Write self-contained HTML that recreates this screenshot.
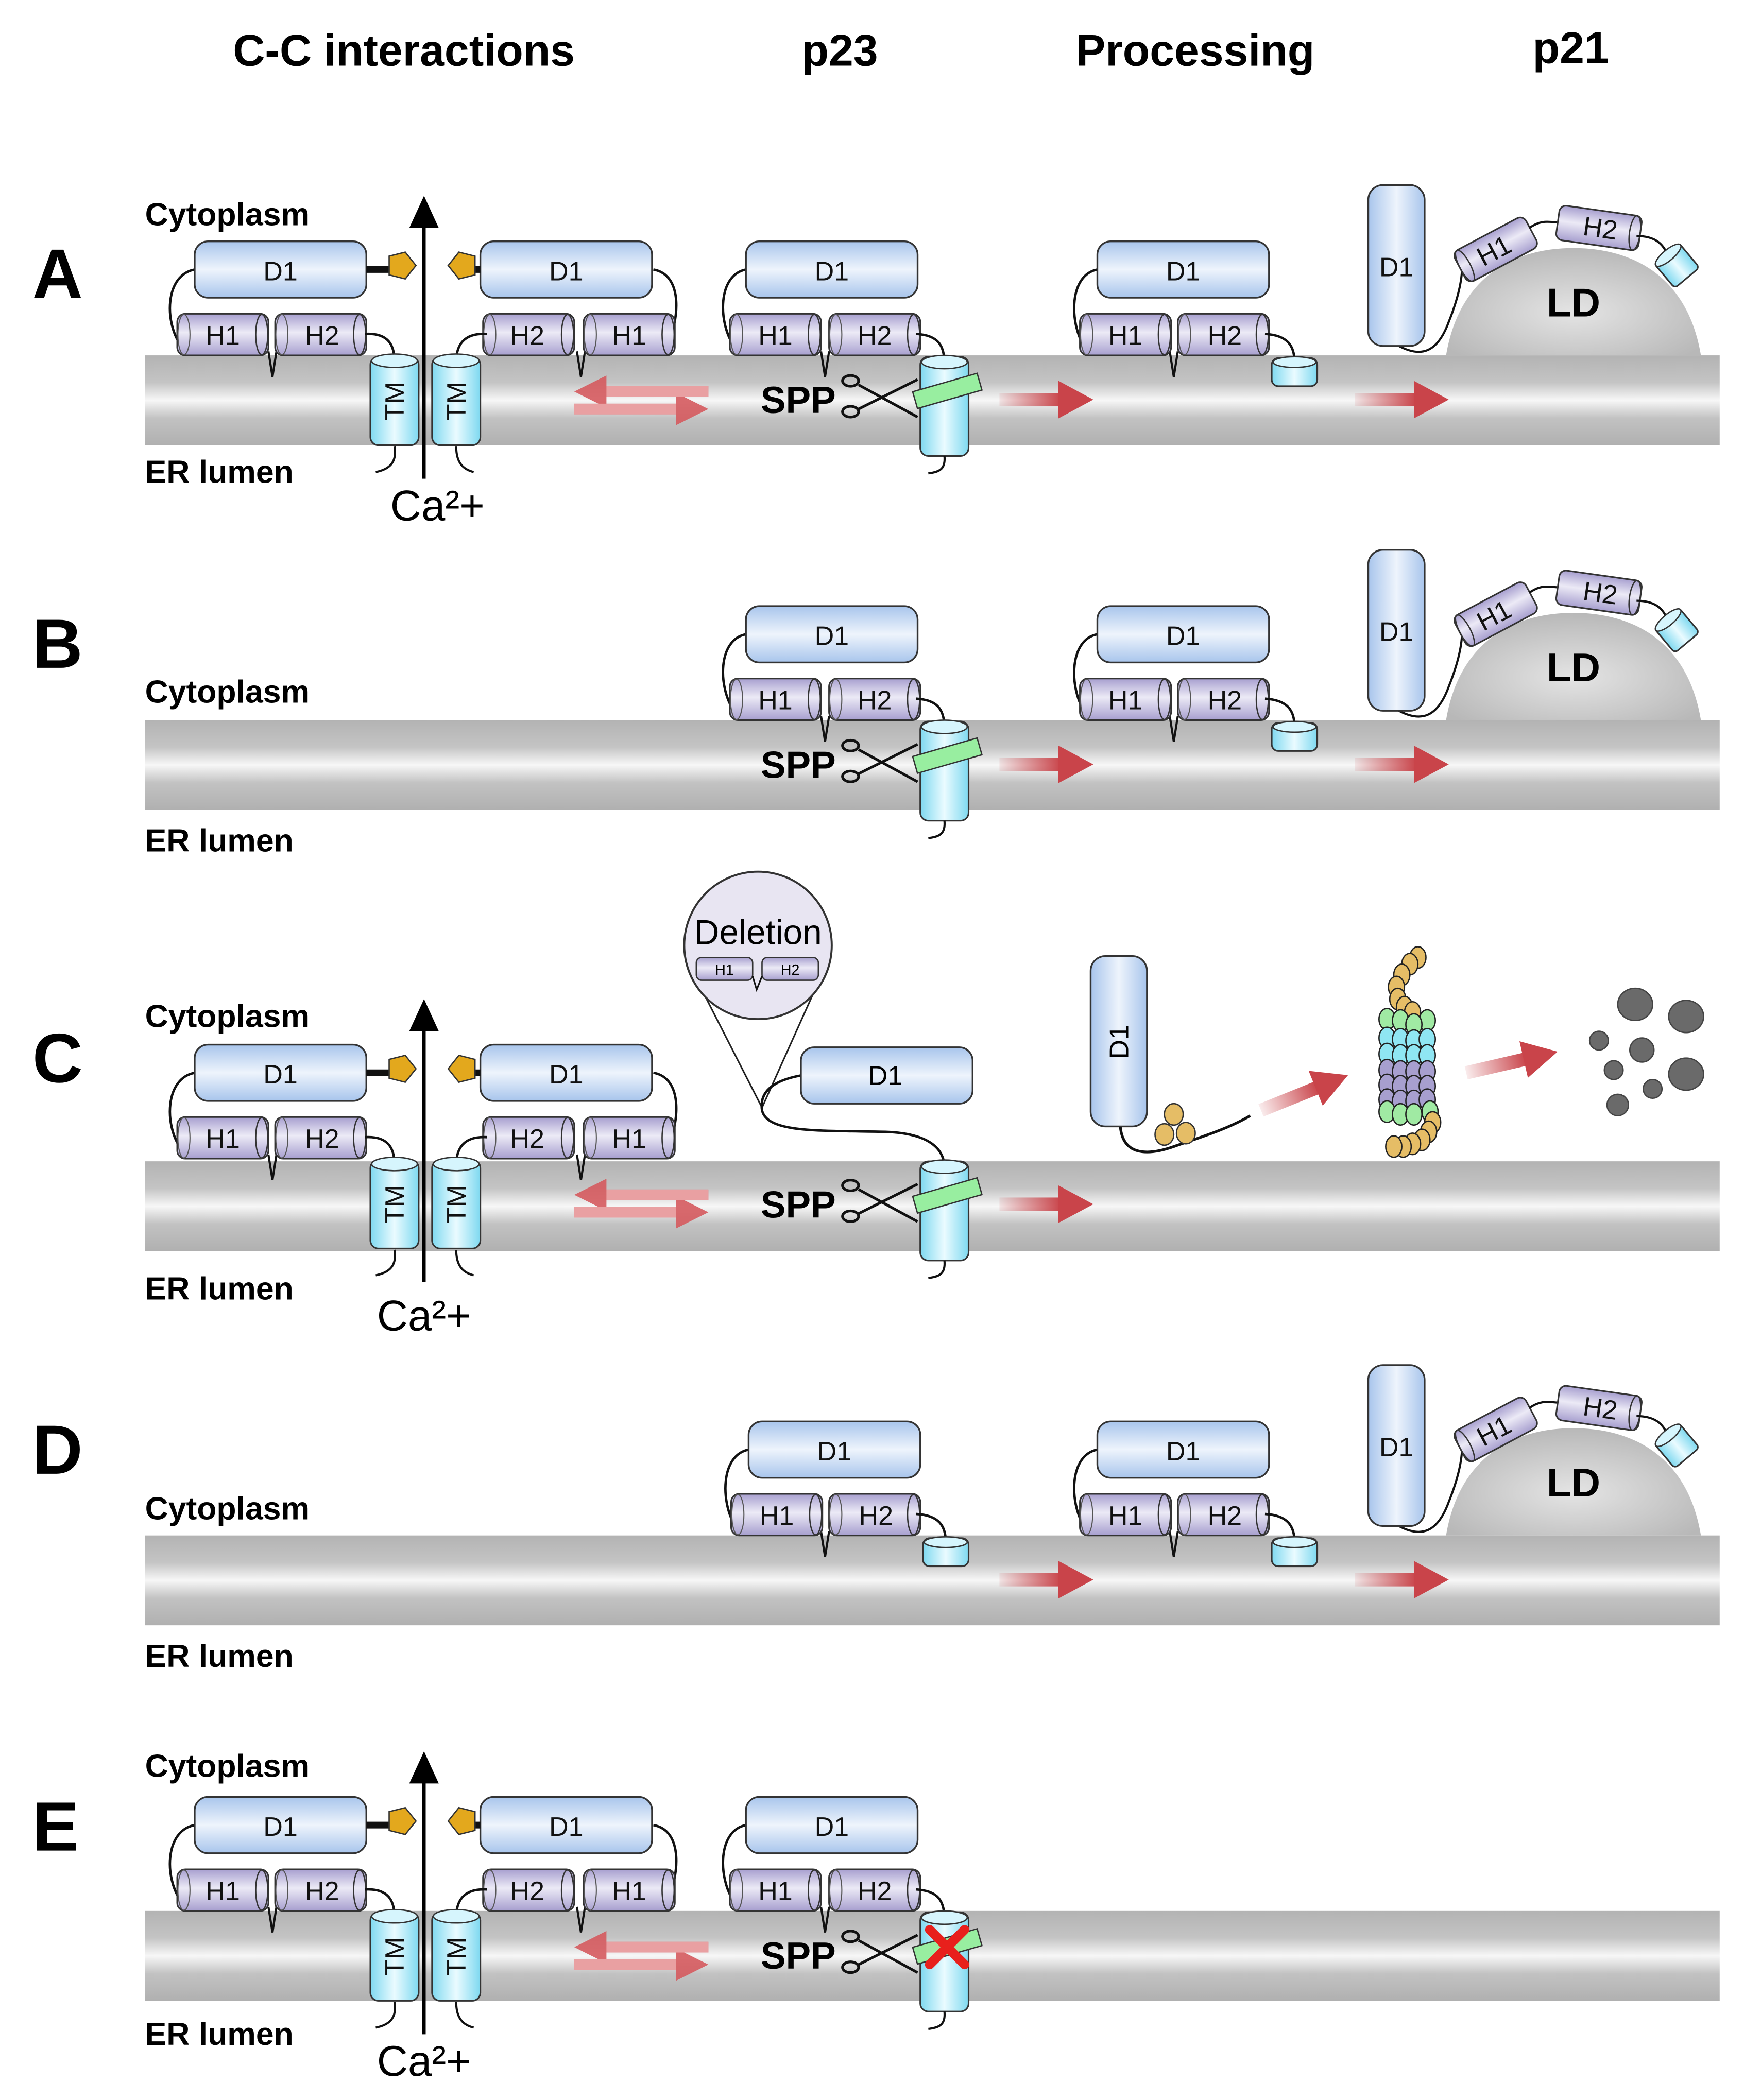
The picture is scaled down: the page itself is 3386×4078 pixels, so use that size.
<!DOCTYPE html>
<html><head><meta charset="utf-8"><style>html,body{margin:0;padding:0;background:#fff}svg{display:block}</style></head>
<body>
<svg xmlns="http://www.w3.org/2000/svg" xmlns:xlink="http://www.w3.org/1999/xlink" width="3386" height="4078" viewBox="0 0 1300 1566" font-family="Liberation Sans, Arial, sans-serif">
<defs>
<linearGradient id="mem" x1="0" y1="0" x2="0" y2="1"><stop offset="0" stop-color="#b3b3b3"/><stop offset="0.3" stop-color="#c4c4c4"/><stop offset="0.5" stop-color="#f7f7f7"/><stop offset="0.7" stop-color="#c2c2c2"/><stop offset="1" stop-color="#b0b0b0"/></linearGradient>
<linearGradient id="blue" x1="0" y1="0" x2="0" y2="1"><stop offset="0" stop-color="#a8c5ec"/><stop offset="0.5" stop-color="#eef4fc"/><stop offset="1" stop-color="#a8c5ec"/></linearGradient>
<linearGradient id="blueV" x1="0" y1="0" x2="1" y2="0"><stop offset="0" stop-color="#a8c5ec"/><stop offset="0.5" stop-color="#eef4fc"/><stop offset="1" stop-color="#a8c5ec"/></linearGradient>
<linearGradient id="purp" x1="0" y1="0" x2="0" y2="1"><stop offset="0" stop-color="#a79fcf"/><stop offset="0.45" stop-color="#eceaf6"/><stop offset="1" stop-color="#a79fcf"/></linearGradient>
<linearGradient id="cyan" x1="0" y1="0" x2="1" y2="0"><stop offset="0" stop-color="#7fd9f0"/><stop offset="0.5" stop-color="#eafbff"/><stop offset="1" stop-color="#7fd9f0"/></linearGradient>
<linearGradient id="red" x1="0" y1="0" x2="1" y2="0"><stop offset="0" stop-color="#c9444a" stop-opacity="0.1"/><stop offset="1" stop-color="#c9444a"/></linearGradient>
<radialGradient id="ld" cx="0.5" cy="0.6" r="0.6"><stop offset="0" stop-color="#e4e4e4"/><stop offset="1" stop-color="#b8b8b8"/></radialGradient>
<g id="hcyl"><rect x="0" y="0" width="68" height="31" rx="6" fill="url(#purp)" stroke="#333" stroke-width="1.2"/><ellipse cx="63" cy="15.5" rx="4.5" ry="15" fill="none" stroke="#333" stroke-width="1"/><ellipse cx="5" cy="15.5" rx="4.5" ry="15" fill="none" stroke="#555" stroke-width="0.8"/></g>
<g id="d1"><rect x="0" y="0" width="128" height="42" rx="10" fill="url(#blue)" stroke="#333" stroke-width="1.3"/></g>
<g id="tm"><rect x="0" y="0" width="36" height="66" rx="6" fill="url(#cyan)" stroke="#333" stroke-width="1.2"/><ellipse cx="18" cy="3" rx="17" ry="5" fill="#d6f5fd" stroke="#333" stroke-width="1"/></g>
<g id="tml"><rect x="0" y="0" width="36" height="74" rx="6" fill="url(#cyan)" stroke="#333" stroke-width="1.2"/><ellipse cx="18" cy="4" rx="17" ry="5" fill="#d6f5fd" stroke="#333" stroke-width="1"/></g>
<g id="scyl"><rect x="0" y="0" width="34" height="21" rx="5" fill="url(#cyan)" stroke="#333" stroke-width="1.2"/><ellipse cx="17" cy="3" rx="16" ry="4" fill="#d6f5fd" stroke="#333" stroke-width="1"/></g>
<g id="rarrow"><rect x="0" y="-5" width="46" height="10" fill="url(#red)"/><polygon points="44,-14 70,0 44,14" fill="#c9444a"/></g>
<g id="eq"><polygon points="428,292 452,280 452,288 528,288 528,296 452,296 452,304" fill="#d55a5e" opacity="0.9"/><polygon points="528,305 504,317 504,309 428,309 428,301 504,301 504,293" fill="#d55a5e" opacity="0.9"/><rect x="452" y="288" width="76" height="8" fill="#e9a0a2"/><rect x="428" y="301" width="76" height="8" fill="#e9a0a2"/></g>
<g id="scis" fill="none" stroke="#111" stroke-width="2"><line x1="640" y1="287" x2="684" y2="311"/><line x1="640" y1="305" x2="684" y2="283"/><ellipse cx="634" cy="284" rx="6" ry="4"/><ellipse cx="634" cy="307" rx="6" ry="4"/></g>
<g id="leftShapes">
<path d="M145,201 C123,205 122,240 135,258" fill="none" stroke="#111" stroke-width="1.8"/>
<path d="M487,201 C510,205 506,240 497,258" fill="none" stroke="#111" stroke-width="1.8"/>
<path d="M200,262 L203,281 L206,262" fill="none" stroke="#111" stroke-width="1.6"/>
<path d="M430,262 L433,281 L436,262" fill="none" stroke="#111" stroke-width="1.6"/>
<use xlink:href="#d1" x="145" y="180"/><use xlink:href="#d1" x="358" y="180"/>
<line x1="273" y1="201" x2="292" y2="201" stroke="#111" stroke-width="5"/><line x1="352" y1="201" x2="358" y2="201" stroke="#111" stroke-width="5"/>
<polygon points="290,191 302,188 310,198 302,208 290,205" fill="#e3a81d" stroke="#333" stroke-width="1"/>
<polygon points="354,191 342,188 334,198 342,208 354,205" fill="#e3a81d" stroke="#333" stroke-width="1"/>
<use xlink:href="#hcyl" x="132" y="234"/><use xlink:href="#hcyl" x="205" y="234"/><use xlink:href="#hcyl" x="360" y="234"/><use xlink:href="#hcyl" x="435" y="234"/>
<path d="M272,249 C290,248 294,258 294,270" fill="none" stroke="#111" stroke-width="1.8"/>
<path d="M363,249 C345,248 340,258 340,270" fill="none" stroke="#111" stroke-width="1.8"/>
<use xlink:href="#tm" x="276" y="266"/><use xlink:href="#tm" x="322" y="266"/>
<path d="M294,333 C296,345 290,350 280,352" fill="none" stroke="#111" stroke-width="1.6"/>
<path d="M340,333 C340,345 345,350 353,352" fill="none" stroke="#111" stroke-width="1.6"/>
<line x1="316" y1="357" x2="316" y2="165" stroke="#000" stroke-width="2.5"/><polygon points="305,170 327,170 316,146" fill="#000"/>
<use xlink:href="#eq"/>
</g>
<g id="p23Shapes">
<path d="M556,201 C535,205 535,240 547,258" fill="none" stroke="#111" stroke-width="1.8"/>
<path d="M612,262 L615,281 L618,262" fill="none" stroke="#111" stroke-width="1.6"/>
<use xlink:href="#d1" x="556" y="180"/>
<use xlink:href="#hcyl" x="544" y="234"/><use xlink:href="#hcyl" x="618" y="234"/>
<path d="M683,249 C700,250 704,258 704,272" fill="none" stroke="#111" stroke-width="1.8"/>
<use xlink:href="#tml" x="686" y="266"/>
<path d="M704,340 C705,350 700,352 692,353" fill="none" stroke="#111" stroke-width="1.6"/>
<rect x="681" y="285" width="50" height="13" fill="#98eea0" stroke="#333" stroke-width="1" transform="rotate(-16 706 291)"/>
<use xlink:href="#scis"/>
</g>
<g id="procShapes">
<path d="M818,201 C797,205 797,240 808,258" fill="none" stroke="#111" stroke-width="1.8"/>
<path d="M872,262 L875,281 L878,262" fill="none" stroke="#111" stroke-width="1.6"/>
<use xlink:href="#d1" x="818" y="180"/>
<use xlink:href="#hcyl" x="805" y="234"/><use xlink:href="#hcyl" x="878" y="234"/>
<path d="M943,249 C960,250 965,258 965,270" fill="none" stroke="#111" stroke-width="1.8"/>
<use xlink:href="#scyl" x="948" y="267"/>
</g>
<g id="p21Shapes">
<path d="M1078,265 C1088,205 1130,185 1173,185 C1216,185 1258,205 1268,265 Z" fill="url(#ld)"/>
<path d="M1041,257 C1060,268 1072,262 1080,240 C1086,225 1090,210 1090,198" fill="none" stroke="#111" stroke-width="1.6"/>
<rect x="1020" y="138" width="42" height="120" rx="11" fill="url(#blueV)" stroke="#333" stroke-width="1.3"/>
<g transform="rotate(-28 1115 186)"><rect x="1085" y="173" width="60" height="26" rx="5" fill="url(#purp)" stroke="#333" stroke-width="1.2"/><ellipse cx="1089" cy="186" rx="4" ry="13" fill="none" stroke="#333"/></g>
<path d="M1140,170 C1150,163 1156,166 1163,166" fill="none" stroke="#111" stroke-width="1.6"/>
<g transform="rotate(8 1192 170)"><rect x="1161" y="157" width="62" height="26" rx="5" fill="url(#purp)" stroke="#333" stroke-width="1.2"/><ellipse cx="1219" cy="170" rx="4" ry="13" fill="none" stroke="#333"/></g>
<path d="M1220,176 C1234,176 1240,182 1243,190" fill="none" stroke="#111" stroke-width="1.6"/>
<g transform="rotate(-40 1250 198)"><rect x="1238" y="186" width="24" height="24" rx="3" fill="url(#cyan)" stroke="#333" stroke-width="1.2"/><ellipse cx="1250" cy="188" rx="12" ry="4" fill="#d6f5fd" stroke="#333"/></g>
</g>
</defs>

<g font-weight="bold" font-size="33" text-anchor="middle" fill="#000">
<text x="301" y="49">C-C interactions</text><text x="626" y="49">p23</text><text x="891" y="49">Processing</text><text x="1171" y="47">p21</text>
</g>

<rect x="108" y="265" width="1174" height="67" fill="url(#mem)"/>
<rect x="108" y="537" width="1174" height="67" fill="url(#mem)"/>
<rect x="108" y="866" width="1174" height="67" fill="url(#mem)"/>
<rect x="108" y="1145" width="1174" height="67" fill="url(#mem)"/>
<rect x="108" y="1425" width="1174" height="67" fill="url(#mem)"/>

<g font-weight="bold" fill="#000">
<text x="24" y="222" font-size="52">A</text><text x="24" y="498" font-size="52">B</text><text x="24" y="807" font-size="52">C</text><text x="24" y="1099" font-size="52">D</text><text x="24" y="1380" font-size="52">E</text>
<g font-size="24"><text x="108" y="168">Cytoplasm</text><text x="108" y="360">ER lumen</text>
<text x="108" y="524">Cytoplasm</text><text x="108" y="635">ER lumen</text>
<text x="108" y="766">Cytoplasm</text><text x="108" y="969">ER lumen</text>
<text x="108" y="1133">Cytoplasm</text><text x="108" y="1243">ER lumen</text>
<text x="108" y="1325">Cytoplasm</text><text x="108" y="1525">ER lumen</text></g>
</g>

<!-- Panel A -->
<use xlink:href="#leftShapes"/>
<g font-size="20" text-anchor="middle" fill="#111">
<text x="209" y="209">D1</text><text x="422" y="209">D1</text>
<text x="166" y="257">H1</text><text x="240" y="257">H2</text><text x="393" y="257">H2</text><text x="469" y="257">H1</text>
<text transform="translate(301 299) rotate(-90)">TM</text><text transform="translate(347 299) rotate(-90)">TM</text>
</g>
<text x="326" y="388" font-size="32" text-anchor="middle">Ca²+</text>
<use xlink:href="#p23Shapes"/>
<g font-size="20" text-anchor="middle" fill="#111"><text x="620" y="209">D1</text><text x="578" y="257">H1</text><text x="652" y="257">H2</text></g>
<text x="567" y="308" font-size="28" font-weight="bold">SPP</text>
<use xlink:href="#rarrow" x="745" y="298"/>
<use xlink:href="#procShapes"/>
<g font-size="20" text-anchor="middle" fill="#111"><text x="882" y="209">D1</text><text x="839" y="257">H1</text><text x="913" y="257">H2</text></g>
<use xlink:href="#rarrow" x="1010" y="298"/>
<use xlink:href="#p21Shapes"/>
<g font-size="20" text-anchor="middle" fill="#111"><text x="1041" y="206">D1</text>
<text transform="translate(1117 193) rotate(-28)">H1</text><text transform="translate(1192 177) rotate(8)">H2</text></g>
<text x="1173" y="236" font-size="30" font-weight="bold" text-anchor="middle">LD</text>

<!-- Panel B -->
<g transform="translate(0 272)">
<use xlink:href="#p23Shapes"/>
<g font-size="20" text-anchor="middle" fill="#111"><text x="620" y="209">D1</text><text x="578" y="257">H1</text><text x="652" y="257">H2</text></g>
<text x="567" y="308" font-size="28" font-weight="bold">SPP</text>
<use xlink:href="#rarrow" x="745" y="298"/>
<use xlink:href="#procShapes"/>
<g font-size="20" text-anchor="middle" fill="#111"><text x="882" y="209">D1</text><text x="839" y="257">H1</text><text x="913" y="257">H2</text></g>
<use xlink:href="#rarrow" x="1010" y="298"/>
<use xlink:href="#p21Shapes"/>
<g font-size="20" text-anchor="middle" fill="#111"><text x="1041" y="206">D1</text>
<text transform="translate(1117 193) rotate(-28)">H1</text><text transform="translate(1192 177) rotate(8)">H2</text></g>
<text x="1173" y="236" font-size="30" font-weight="bold" text-anchor="middle">LD</text>
</g>

<!-- Panel C -->
<g transform="translate(0 599)">
<use xlink:href="#leftShapes"/>
<g font-size="20" text-anchor="middle" fill="#111">
<text x="209" y="209">D1</text><text x="422" y="209">D1</text>
<text x="166" y="257">H1</text><text x="240" y="257">H2</text><text x="393" y="257">H2</text><text x="469" y="257">H1</text>
<text transform="translate(301 299) rotate(-90)">TM</text><text transform="translate(347 299) rotate(-90)">TM</text>
</g>
</g>
<text x="316" y="992" font-size="32" text-anchor="middle">Ca²+</text>
<line x1="518" y1="728" x2="568" y2="826" stroke="#222" stroke-width="1.2"/>
<line x1="612" y1="728" x2="568" y2="826" stroke="#222" stroke-width="1.2"/>
<circle cx="565" cy="705" r="55" fill="#e8e5f2" stroke="#333" stroke-width="1.5"/>
<text x="565" y="704" font-size="26" text-anchor="middle">Deletion</text>
<rect x="519" y="714" width="42" height="17" rx="4" fill="url(#purp)" stroke="#333"/>
<rect x="568" y="714" width="42" height="17" rx="4" fill="url(#purp)" stroke="#333"/>
<path d="M561,728 L564,738 L568,728" fill="none" stroke="#111" stroke-width="1.2"/>
<text x="540" y="727" font-size="11" text-anchor="middle">H1</text><text x="589" y="727" font-size="11" text-anchor="middle">H2</text>
<path d="M597,802 C575,806 566,815 568,828 C572,845 610,843 660,844 C690,845 704,855 704,871" fill="none" stroke="#111" stroke-width="1.8"/>
<use xlink:href="#d1" x="597" y="781"/>
<text x="660" y="809" font-size="20" text-anchor="middle">D1</text>
<g transform="translate(0 600)">
<use xlink:href="#tml" x="686" y="266"/>
<path d="M704,340 C705,350 700,352 692,353" fill="none" stroke="#111" stroke-width="1.6"/>
<rect x="681" y="285" width="50" height="13" fill="#98eea0" stroke="#333" stroke-width="1" transform="rotate(-16 706 291)"/>
<use xlink:href="#scis"/>
<text x="567" y="308" font-size="28" font-weight="bold">SPP</text>
<use xlink:href="#rarrow" x="745" y="298"/>
</g>
<path d="M835,838 C836,862 855,862 875,855 C895,848 915,842 932,832" fill="none" stroke="#111" stroke-width="2"/>
<rect x="813" y="713" width="42" height="127" rx="11" fill="url(#blueV)" stroke="#333" stroke-width="1.3"/>
<text transform="translate(841 777) rotate(-90)" font-size="20" text-anchor="middle">D1</text>
<g fill="#e5bd66" stroke="#333" stroke-width="1"><ellipse cx="875" cy="831" rx="7" ry="8"/><ellipse cx="868" cy="846" rx="7" ry="8"/><ellipse cx="884" cy="845" rx="7" ry="8"/></g>
<use xlink:href="#rarrow" transform="translate(940 828) rotate(-22)"/>
<g stroke="#222" stroke-width="1">
<g fill="#e5bd66"><ellipse cx="1057" cy="714" rx="6" ry="8"/><ellipse cx="1051" cy="719" rx="6" ry="8"/><ellipse cx="1045" cy="727" rx="6" ry="8"/><ellipse cx="1041" cy="736" rx="6" ry="8"/><ellipse cx="1042" cy="745" rx="6" ry="8"/><ellipse cx="1047" cy="751" rx="6" ry="8"/><ellipse cx="1053" cy="755" rx="6" ry="8"/></g>
<g fill="#a0eaa3"><ellipse cx="1034" cy="760" rx="6" ry="8"/><ellipse cx="1044" cy="761" rx="6" ry="8"/><ellipse cx="1064" cy="761" rx="6" ry="8"/><ellipse cx="1054" cy="764" rx="6" ry="8"/></g>
<g fill="#8fe6f3"><ellipse cx="1034" cy="774" rx="6" ry="8"/><ellipse cx="1044" cy="775" rx="6" ry="8"/><ellipse cx="1054" cy="776" rx="6" ry="8"/><ellipse cx="1064" cy="775" rx="6" ry="8"/>
<ellipse cx="1034" cy="786" rx="6" ry="8"/><ellipse cx="1044" cy="787" rx="6" ry="8"/><ellipse cx="1054" cy="787" rx="6" ry="8"/><ellipse cx="1064" cy="787" rx="6" ry="8"/></g>
<g fill="#a79fcf"><ellipse cx="1034" cy="798" rx="6" ry="8"/><ellipse cx="1044" cy="799" rx="6" ry="8"/><ellipse cx="1054" cy="799" rx="6" ry="8"/><ellipse cx="1064" cy="799" rx="6" ry="8"/>
<ellipse cx="1034" cy="809" rx="6" ry="8"/><ellipse cx="1044" cy="810" rx="6" ry="8"/><ellipse cx="1054" cy="810" rx="6" ry="8"/><ellipse cx="1064" cy="810" rx="6" ry="8"/>
<ellipse cx="1034" cy="820" rx="6" ry="8"/><ellipse cx="1044" cy="821" rx="6" ry="8"/><ellipse cx="1054" cy="821" rx="6" ry="8"/><ellipse cx="1064" cy="820" rx="6" ry="8"/></g>
<g fill="#a0eaa3"><ellipse cx="1034" cy="829" rx="6" ry="8"/><ellipse cx="1044" cy="831" rx="6" ry="8"/><ellipse cx="1054" cy="831" rx="6" ry="8"/><ellipse cx="1066" cy="829" rx="6" ry="8"/></g>
<g fill="#e5bd66"><ellipse cx="1068" cy="837" rx="6" ry="8"/><ellipse cx="1065" cy="844" rx="6" ry="8"/><ellipse cx="1060" cy="850" rx="6" ry="8"/><ellipse cx="1053" cy="853" rx="6" ry="8"/><ellipse cx="1046" cy="855" rx="6" ry="8"/><ellipse cx="1039" cy="855" rx="6" ry="8"/></g>
</g>
<use xlink:href="#rarrow" transform="translate(1093 800) rotate(-13)"/>
<g fill="#6a6a6a" stroke="#444" stroke-width="1"><ellipse cx="1219" cy="749" rx="13" ry="12"/><ellipse cx="1257" cy="758" rx="13" ry="12"/><ellipse cx="1192" cy="776" rx="7" ry="7"/><ellipse cx="1224" cy="783" rx="9" ry="9"/><ellipse cx="1203" cy="798" rx="7" ry="7"/><ellipse cx="1257" cy="801" rx="13" ry="12"/><ellipse cx="1232" cy="812" rx="7" ry="7"/><ellipse cx="1206" cy="824" rx="8" ry="8"/></g>

<!-- Panel D -->
<g transform="translate(-260 880)">
<use xlink:href="#procShapes"/>
<g font-size="20" text-anchor="middle" fill="#111"><text x="882" y="209">D1</text><text x="839" y="257">H1</text><text x="913" y="257">H2</text></g>
</g>
<g transform="translate(0 880)">
<use xlink:href="#rarrow" x="745" y="298"/>
<use xlink:href="#procShapes"/>
<g font-size="20" text-anchor="middle" fill="#111"><text x="882" y="209">D1</text><text x="839" y="257">H1</text><text x="913" y="257">H2</text></g>
<use xlink:href="#rarrow" x="1010" y="298"/>
<use xlink:href="#p21Shapes"/>
<g font-size="20" text-anchor="middle" fill="#111"><text x="1041" y="206">D1</text>
<text transform="translate(1117 193) rotate(-28)">H1</text><text transform="translate(1192 177) rotate(8)">H2</text></g>
<text x="1173" y="236" font-size="30" font-weight="bold" text-anchor="middle">LD</text>
</g>

<!-- Panel E -->
<g transform="translate(0 1160)">
<use xlink:href="#leftShapes"/>
<g font-size="20" text-anchor="middle" fill="#111">
<text x="209" y="209">D1</text><text x="422" y="209">D1</text>
<text x="166" y="257">H1</text><text x="240" y="257">H2</text><text x="393" y="257">H2</text><text x="469" y="257">H1</text>
<text transform="translate(301 299) rotate(-90)">TM</text><text transform="translate(347 299) rotate(-90)">TM</text>
</g>
<use xlink:href="#p23Shapes"/>
<g font-size="20" text-anchor="middle" fill="#111"><text x="620" y="209">D1</text><text x="578" y="257">H1</text><text x="652" y="257">H2</text></g>
<text x="567" y="308" font-size="28" font-weight="bold">SPP</text>
<g stroke="#e8201c" stroke-width="7" stroke-linecap="round"><line x1="693" y1="279" x2="719" y2="305"/><line x1="719" y1="279" x2="693" y2="305"/></g>
</g>
<text x="316" y="1548" font-size="32" text-anchor="middle">Ca²+</text>
</svg>
</body></html>
